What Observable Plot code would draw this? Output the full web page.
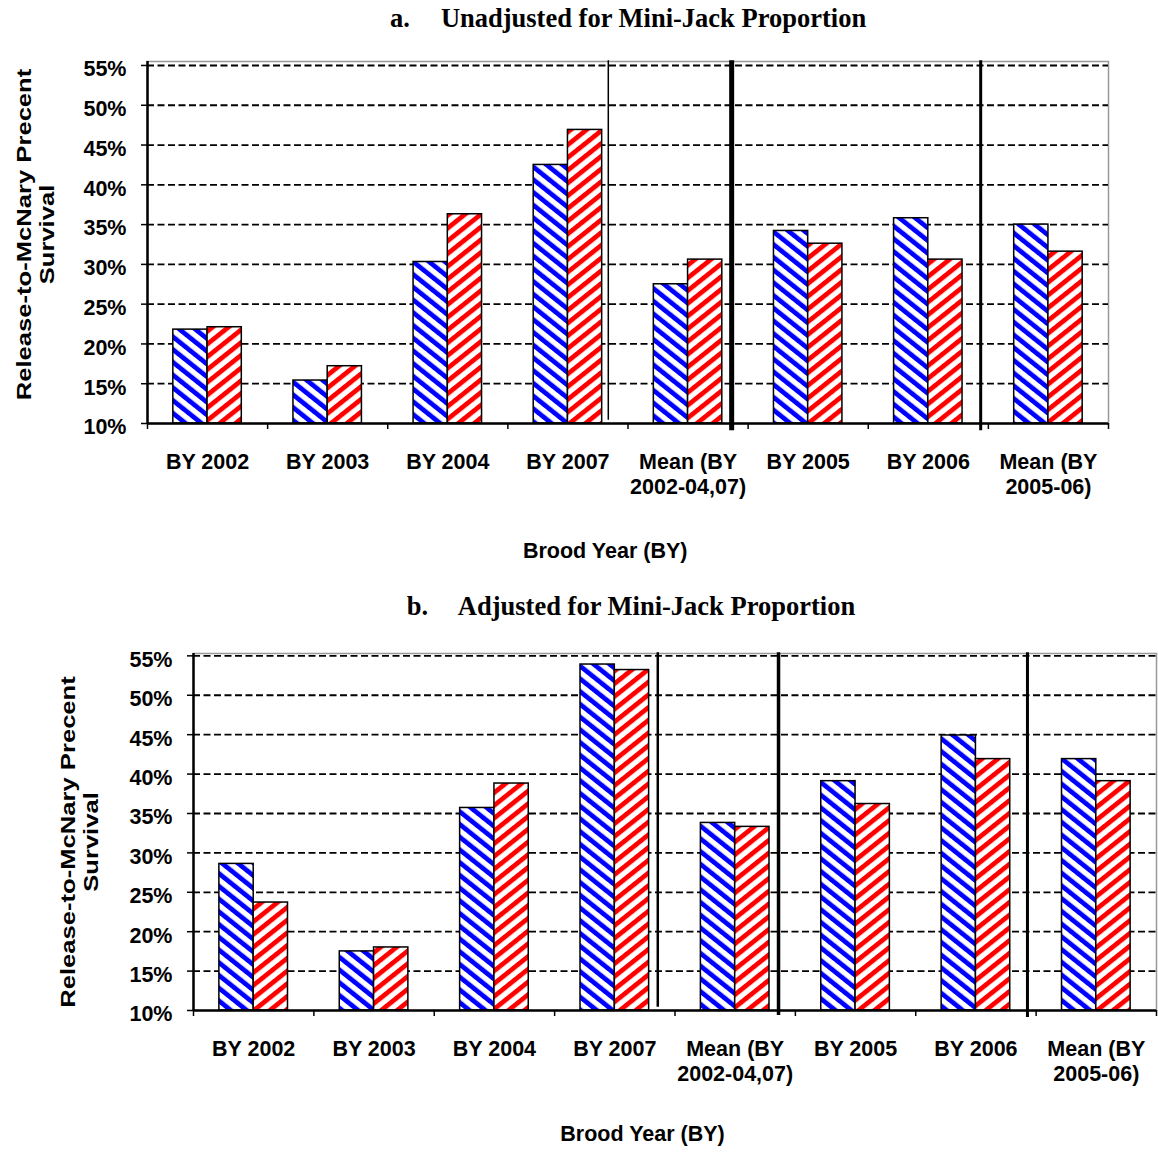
<!DOCTYPE html>
<html><head><meta charset="utf-8">
<script src="https://cdn.jsdelivr.net/npm/d3@7"></script>
<script src="https://cdn.jsdelivr.net/npm/@observablehq/plot@0.6"></script>
<style>
body{margin:0;background:#fff;width:1158px;height:1157px;position:relative;overflow:hidden;font-family:"Liberation Sans",Arial,sans-serif}
.title{position:absolute;font-family:"Liberation Serif","Times New Roman",serif;font-weight:bold;font-size:26.5px;line-height:30px;white-space:nowrap;transform:translateX(-50%)}
.title .lbl{display:inline-block;width:51px}
#c1{position:absolute;left:0;top:36px}
#c2{position:absolute;left:0;top:625px}
</style></head><body>
<svg width="0" height="0" style="position:absolute;left:0;top:0"><defs>
<pattern id="hatchBlue" patternUnits="userSpaceOnUse" width="9" height="9" patternTransform="scale(1.25,1) rotate(-45)">
<rect width="9" height="9" fill="white"/><rect width="4.3" height="9" fill="#0000ff"/></pattern>
<pattern id="hatchRed" patternUnits="userSpaceOnUse" width="9" height="9" patternTransform="scale(1.25,1) rotate(45)">
<rect width="9" height="9" fill="white"/><rect width="4.3" height="9" fill="#ff0000"/></pattern>
</defs></svg>
<div class="title" style="left:628px;top:3px"><span class="lbl">a.</span>Unadjusted for Mini-Jack Proportion</div>
<div id="c1"></div>
<div class="title" style="left:631px;top:591px"><span class="lbl">b.</span>Adjusted for Mini-Jack Proportion</div>
<div id="c2"></div>
<script>
const categories = ["BY 2002", "BY 2003", "BY 2004", "BY 2007", "Mean (BY\n2002-04,07)", "BY 2005", "BY 2006", "Mean (BY\n2005-06)"];
const unadjustedBlue = [21.8, 15.4, 30.3, 42.5, 27.5, 34.2, 35.8, 35.0];
const unadjustedRed  = [22.1, 17.2, 36.3, 46.9, 30.6, 32.6, 30.6, 31.6];
const adjustedBlue   = [28.6, 17.5, 35.7, 53.9, 33.8, 39.1, 44.9, 41.9];
const adjustedRed    = [23.7, 18.0, 38.8, 53.2, 33.3, 36.2, 41.9, 39.1];
const yTicks = [10, 15, 20, 25, 30, 35, 40, 45, 50, 55];
const yTitle = "Release-to-McNary Precent\nSurvival";
const xTitle = "Brood Year (BY)";

const FONT = "'Liberation Sans', Arial, sans-serif";
const BW = 0.285;
const FS = 21.5;

function chart(o) {
  const blueRows = categories.map((c, i) => ({i, v: o.blue[i]}));
  const redRows = categories.map((c, i) => ({i, v: o.red[i]}));
  const svg = Plot.plot({
    width: 1158, height: o.height,
    marginLeft: o.marginLeft, marginRight: o.marginRight, marginTop: o.marginTop, marginBottom: o.marginBottom,
    x: {domain: [0, 8], axis: null, label: null},
    y: {domain: [10, o.ytop], axis: null, label: null},
    style: {fontFamily: FONT, fontWeight: "bold", fontSize: FS + "px", color: "black", background: "white", overflow: "visible"},
    marks: [
      Plot.frame({stroke: "#999", strokeWidth: 1.5}),
      Plot.gridY(yTicks.slice(1), {stroke: "black", strokeOpacity: 1, strokeWidth: 1.8, strokeDasharray: "7,3.5"}),
      Plot.rectY(blueRows, {x1: d => d.i + 0.5 - BW, x2: d => d.i + 0.5, y1: 10, y2: "v", fill: "url(#hatchBlue)", stroke: "black", strokeWidth: 1.5}),
      Plot.rectY(redRows, {x1: d => d.i + 0.5, x2: d => d.i + 0.5 + BW, y1: 10, y2: "v", fill: "url(#hatchRed)", stroke: "black", strokeWidth: 1.5}),
      ...o.seps.map(s => Plot.ruleX([s.x], {y1: s.y1, y2: o.ytop + 0.1, stroke: "black", strokeWidth: s.w})),
      Plot.axisY({ticks: yTicks, tickFormat: () => "", tickSize: 6, strokeWidth: 1.5, label: null}),
      Plot.axisX({ticks: d3.range(0, 9), tickFormat: () => "", tickSize: 6, strokeWidth: 1.5, label: null}),
      Plot.ruleY([10], {stroke: "black", strokeWidth: 2.5}),
      Plot.ruleX([0], {stroke: "black", strokeWidth: 2.5}),
      Plot.text(yTicks, {y: d => d, text: d => d + "%", frameAnchor: "left", textAnchor: "end", dx: -21, dy: 4, fontSize: FS, fontWeight: "bold"}),
      Plot.text(categories, {x: (d, i) => i + 0.5, text: d => d, frameAnchor: "bottom", lineAnchor: "top", dy: 28, lineHeight: 1.15, fontSize: FS, fontWeight: "bold"}),
      Plot.text([xTitle], {x: o.xTitleX, text: d => d, frameAnchor: "bottom", dy: o.xTitleDy, fontSize: FS, fontWeight: "bold"}),
      Plot.text([yTitle], {text: d => d, frameAnchor: "left", rotate: -90, textAnchor: "middle", dx: o.yTitleDx, dy: o.yTitleDy, lineHeight: 1.1, fontSize: 21, fontWeight: "bold"})
    ]
  });
  // the reference's axis title is drawn stretched along its reading direction
  d3.select(svg).selectAll("text").filter(function() { return this.textContent.startsWith("Release"); })
    .attr("transform", function() { return (this.getAttribute("transform") || "") + " scale(1.22,1)"; });
  return svg;
}

document.getElementById("c1").appendChild(chart({
  blue: unadjustedBlue, red: unadjustedRed, ytop: 55.5,
  height: 537, marginLeft: 147, marginRight: 50, marginTop: 25, marginBottom: 150,
  seps: [{x: 3.836, w: 1.5, y1: 10.4}, {x: 4.863, w: 5, y1: 9.1}, {x: 6.936, w: 3, y1: 9.1}],
  xTitleX: 3.81, xTitleDy: 134, yTitleDx: -112, yTitleDy: -8
}));
document.getElementById("c2").appendChild(chart({
  blue: adjustedBlue, red: adjustedRed, ytop: 55.3,
  height: 530, marginLeft: 193, marginRight: 2, marginTop: 28, marginBottom: 145,
  seps: [{x: 3.857, w: 2.5, y1: 10.4}, {x: 4.86, w: 3.5, y1: 9.35}, {x: 6.928, w: 3, y1: 9.1}],
  xTitleX: 3.73, xTitleDy: 130, yTitleDx: -114, yTitleDy: 10
}));
</script>
</body></html>
